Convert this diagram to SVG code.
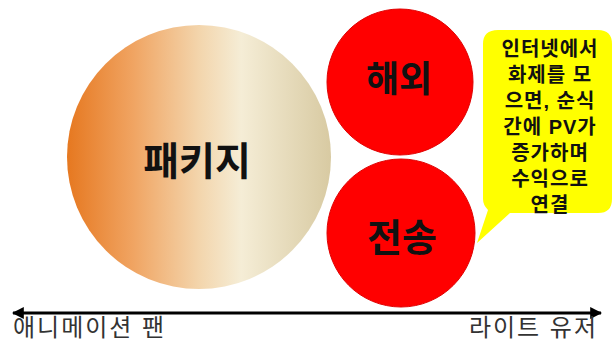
<svg xmlns="http://www.w3.org/2000/svg" width="613" height="343" viewBox="0 0 613 343">
  <style>
    .kr { font-family: "Liberation Sans", "Noto Sans CJK KR", sans-serif; }
    .b { font-weight: bold; fill: #111; text-anchor: middle; }
    .axis-label { font-size: 24px; fill: #333; letter-spacing: 2px; }
    .red { fill: #FF0000; stroke: #E00000; stroke-width: 1; }
  </style>
  <defs>
    <linearGradient id="pkg" x1="0" y1="0" x2="1" y2="0">
      <stop offset="0" stop-color="#E67820"/>
      <stop offset="0.25" stop-color="#F0A462"/>
      <stop offset="0.5" stop-color="#F3D5AC"/>
      <stop offset="0.66" stop-color="#F5EDD6"/>
      <stop offset="1" stop-color="#D8CAA2"/>
    </linearGradient>
    <marker id="arr" viewBox="0 0 10 10" refX="9" refY="5" markerWidth="4" markerHeight="4" orient="auto-start-reverse">
      <path d="M0,0 L10,5 L0,10 Z" fill="#000"/>
    </marker>
  </defs>
  <rect width="613" height="343" fill="#fff"/>

  <g id="package">
    <circle cx="199" cy="157" r="132" fill="url(#pkg)"/>
    <text class="kr b" x="197" y="175" font-size="39">패키지</text>
  </g>

  <g id="overseas">
    <circle class="red" cx="400" cy="82" r="73"/>
    <text class="kr b" x="399" y="92" font-size="36">해외</text>
  </g>

  <g id="transfer">
    <circle class="red" cx="401" cy="233" r="74"/>
    <text class="kr b" x="402" y="251" font-size="38">전송</text>
  </g>

  <g id="callout">
    <path d="M498,30 H598 Q612,30 612,44 V199 Q612,213 598,213 H510 L477,243 L488,210 Q483,205 483,199 V44 Q483,30 498,30 Z" fill="#FFFF00"/>
    <g class="kr b" font-size="20" letter-spacing="1">
      <text x="550" y="56">인터넷에서</text>
      <text x="550" y="82">화제를 모</text>
      <text x="550" y="108">으면, 순식</text>
      <text x="550" y="134">간에 PV가</text>
      <text x="550" y="160">증가하며</text>
      <text x="550" y="186">수익으로</text>
      <text x="550" y="212">연결</text>
    </g>
  </g>

  <g id="connectors">
    <line x1="13" y1="313" x2="601" y2="313" stroke="#000" stroke-width="3" marker-start="url(#arr)" marker-end="url(#arr)"/>
  </g>

  <g id="axis-labels">
    <text class="kr axis-label" x="13" y="336">애니메이션 팬</text>
    <text class="kr axis-label" x="598" y="336" text-anchor="end">라이트 유저</text>
  </g>
</svg>
